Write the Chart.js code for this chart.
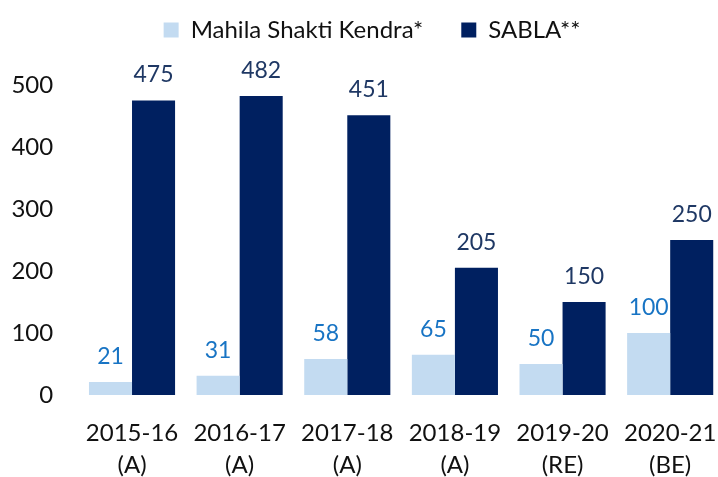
<!DOCTYPE html>
<html>
<head>
<meta charset="utf-8">
<script src="https://cdn.jsdelivr.net/npm/chart.js@4/dist/chart.umd.min.js"></script>
<style>
  html, body { margin: 0; padding: 0; background: #ffffff; overflow: hidden; }
  #wrap { position: relative; width: 724px; height: 477px; }
</style>
</head>
<body>
<div id="wrap"><canvas id="c"></canvas></div>
<script>
const categories = [
  ["2015-16", "(A)"],
  ["2016-17", "(A)"],
  ["2017-18", "(A)"],
  ["2018-19", "(A)"],
  ["2019-20", "(RE)"],
  ["2020-21", "(BE)"]
];
const mahilaShaktiKendra = [21, 31, 58, 65, 50, 100];
const sabla = [475, 482, 451, 205, 150, 250];
const seriesNames = ["Mahila Shakti Kendra*", "SABLA**"];
const yTicks = [0, 100, 200, 300, 400, 500];

const FONT = "Lato, 'Open Sans', sans-serif";
const labelColors = ["#1874C4", "#1F3864"];

const dataLabels = {
  id: "dataLabels",
  afterDatasetsDraw(chart) {
    const ctx = chart.ctx;
    ctx.save();
    ctx.font = "23px " + FONT;
    ctx.textAlign = "center";
    ctx.textBaseline = "alphabetic";
    chart.data.datasets.forEach((ds, di) => {
      const meta = chart.getDatasetMeta(di);
      ctx.fillStyle = labelColors[di];
      meta.data.forEach((el, i) => {
        ctx.fillText(String(ds.data[i]), el.x, el.y - 18);
      });
    });
    ctx.restore();
  }
};

const legendShift = {
  id: "legendShift",
  afterLayout(chart) {
    if (chart.legend) { chart.legend.left += 10; chart.legend.right += 10; }
  }
};

new Chart(document.getElementById("c"), {
  type: "bar",
  data: {
    labels: categories,
    datasets: [
      { label: seriesNames[0], data: mahilaShaktiKendra, backgroundColor: "#C3DBF1", borderWidth: 0 },
      { label: seriesNames[1], data: sabla, backgroundColor: "#002060", borderWidth: 0 }
    ]
  },
  options: {
    responsive: true,
    maintainAspectRatio: false,
    animation: false,
    layout: { padding: { left: 0, right: 0, top: -20, bottom: 0 } },
    datasets: { bar: { categoryPercentage: 0.8, barPercentage: 1.0 } },
    plugins: {
      legend: {
        position: "top",
        labels: {
          boxWidth: 15, boxHeight: 15, padding: 38,
          color: "#111111",
          font: { family: FONT, size: 24 }
        }
      },
      tooltip: { enabled: false }
    },
    scales: {
      x: {
        grid: { display: false, drawTicks: false },
        border: { display: false },
        ticks: {
          color: "#111111", padding: 22, maxRotation: 0, autoSkip: false,
          font: { family: FONT, size: 24, lineHeight: 1.35 }
        },
        afterFit(scale) { scale.height = 82; scale.paddingLeft = 0; scale.paddingRight = 0; }
      },
      y: {
        min: 0, max: 553,
        afterBuildTicks(scale) { scale.ticks = yTicks.map(v => ({ value: v })); },
        grid: { display: false, drawTicks: false },
        border: { display: false },
        ticks: {
          color: "#111111", padding: 25,
          font: { family: FONT, size: 24 }
        },
        afterFit(scale) { scale.width = 78.2; }
      }
    }
  },
  plugins: [dataLabels, legendShift]
});
</script>
</body>
</html>
